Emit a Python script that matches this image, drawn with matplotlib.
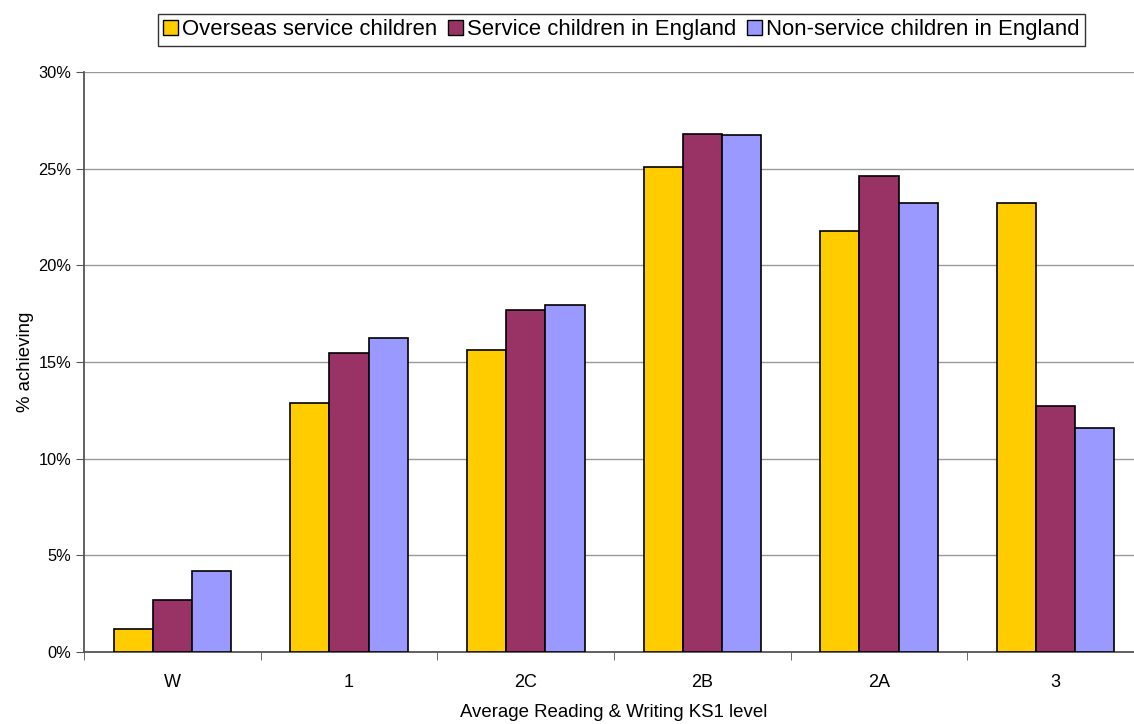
import matplotlib
matplotlib.use("Agg")
import matplotlib.pyplot as plt
import numpy as np
from matplotlib.patches import Patch

categories = ["W", "1", "2C", "2B", "2A", "3"]
overseas = [1.2, 12.9, 15.6, 25.1, 21.8, 23.2]
service_eng = [2.7, 15.45, 17.7, 26.8, 24.6, 12.75]
nonservice_eng = [4.2, 16.25, 17.95, 26.75, 23.2, 11.6]
series_names = ["Overseas service children", "Service children in England",
                "Non-service children in England"]
colors = ["#FFCC00", "#993366", "#9999FF"]

plt.rcParams['font.family'] = ['Liberation Sans', 'DejaVu Sans']
fig = plt.figure(figsize=(11.34, 7.24), dpi=100)
ax = fig.add_axes([0.0741, 0.0994, 0.9347, 0.8012])

x = np.arange(len(categories))
w = 0.222
for i, (vals, c) in enumerate(zip([overseas, service_eng, nonservice_eng], colors)):
    ax.bar(x + (i - 1) * w, vals, width=w, color=c, edgecolor="black",
           linewidth=1.2, zorder=3)

ax.set_xlim(-0.5, len(categories) - 0.5)
ax.set_ylim(0, 30)
ax.set_yticks(np.arange(0, 31, 5))
ax.set_yticklabels([f"{v}%" for v in range(0, 31, 5)], fontsize=11.8)
ax.yaxis.grid(True, color="#999999", linewidth=1.0, zorder=0)
ax.set_axisbelow(True)

ax.set_xticks(x)
ax.set_xticklabels(categories, fontsize=13)
ax.tick_params(axis='x', length=0, pad=16)
ax.set_xticks(np.arange(-0.5, len(categories) + 0.5, 1), minor=True)
ax.tick_params(axis='x', which='minor', length=6, color="#555555", direction='out')
ax.tick_params(axis='y', length=6, color="#555555", direction='out', pad=3)

for s in ["top", "right"]:
    ax.spines[s].set_visible(False)
for s in ["left", "bottom"]:
    ax.spines[s].set_color("#555555")
    ax.spines[s].set_linewidth(1.3)

ax.set_xlabel("Average Reading & Writing KS1 level", fontsize=13.4, labelpad=9)
ax.set_ylabel("% achieving", fontsize=13.4, labelpad=3)

handles = [Patch(facecolor=c, edgecolor="black", linewidth=1.0) for c in colors]
leg = fig.legend(handles, series_names, loc="center", bbox_to_anchor=(0.548, 0.959),
                 ncol=3, fontsize=15.9, frameon=True, fancybox=False,
                 edgecolor="black", handlelength=0.65, handleheight=0.7,
                 handletextpad=0.2, columnspacing=0.5, borderpad=0.25,
                 borderaxespad=0)
leg.get_frame().set_linewidth(1.0)

fig.savefig("out.png", dpi=100)
